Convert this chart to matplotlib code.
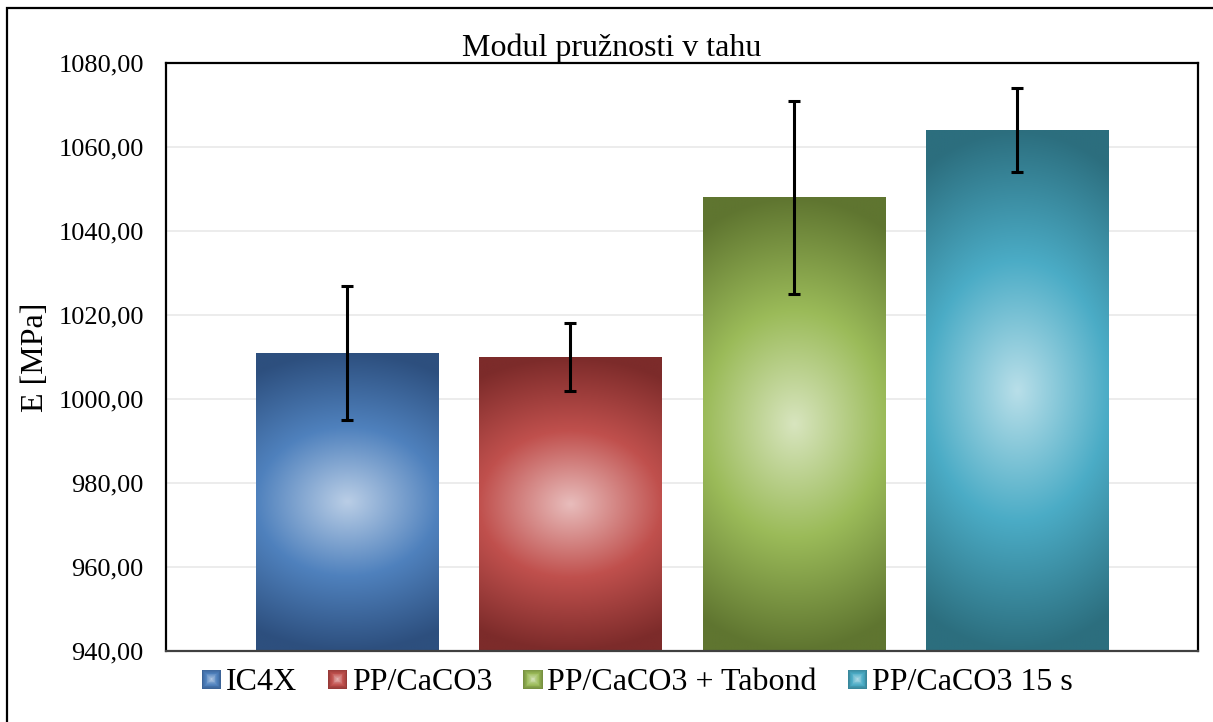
import numpy as np
import matplotlib
matplotlib.use('Agg')
import matplotlib.pyplot as plt
from matplotlib.patches import Rectangle, Patch
from matplotlib.legend_handler import HandlerBase
from matplotlib.colors import to_rgb
from matplotlib.ticker import FuncFormatter, MultipleLocator

plt.rcParams['font.family'] = ['Liberation Serif', 'DejaVu Serif']

# data
labels = ['IC4X', 'PP/CaCO3', 'PP/CaCO3 + Tabond', 'PP/CaCO3 15 s']
values = [1011, 1010, 1048, 1064]
errors = [16, 8, 23, 10]

# gradient colours per series: edge (dark), mid, centre (light)
dark_cols = ['#2D4F7E', '#7C2B2A', '#5F7530', '#2C6E7E']
mid_cols = ['#4F81BD', '#C0504D', '#9BBB59', '#4BACC6']
light_cols = ['#BACEE6', '#E8BDBC', '#D8E5BF', '#B9DFE9']

Y_MIN, Y_MAX = 940, 1080


def blend(t, c_dark, c_mid, c_light, split=0.5):
    d, m, l = (np.array(to_rgb(c)) for c in (c_dark, c_mid, c_light))
    t = np.clip(t, 0, 1)[..., None]
    inner = l + (m - l) * (t / split)
    outer = m + (d - m) * ((t - split) / (1 - split))
    return np.where(t < split, inner, outer)


def gradient_image(c_dark, c_mid, c_light, n=240):
    yy, xx = np.mgrid[-1:1:n * 1j, -1:1:n * 1j]
    t = np.sqrt(0.25 * xx ** 2 + yy ** 2)
    return blend(t, c_dark, c_mid, c_light)


class GradientSquare(HandlerBase):
    def __init__(self, cols, steps=12):
        super().__init__()
        self.cols = cols
        self.steps = steps

    def create_artists(self, legend, orig_handle, xdescent, ydescent,
                       width, height, fontsize, trans):
        size = height * 1.05
        cx = -xdescent + width / 2
        cy = -ydescent + height / 2
        arts = []
        for i in range(self.steps):
            frac = 1 - i / self.steps
            s = size * frac
            col = blend(np.array(frac * 0.8), *self.cols)
            r = Rectangle((cx - s / 2, cy - s / 2), s, s, facecolor=col,
                          edgecolor='none', transform=trans)
            arts.append(r)
        return arts


fig = plt.figure(figsize=(12.13, 7.22), dpi=100)
ax = fig.add_axes([166 / 1213, 1 - 651 / 722, 1032 / 1213, 588 / 722])

x = np.arange(len(labels))
width = 0.815
bars = ax.bar(x, np.array(values) - Y_MIN, bottom=Y_MIN, width=width,
              color='none', edgecolor='none', zorder=2)

for i, b in enumerate(bars):
    img = gradient_image(dark_cols[i], mid_cols[i], light_cols[i])
    im = ax.imshow(img, extent=[b.get_x(), b.get_x() + b.get_width(),
                                Y_MIN, values[i]],
                   aspect='auto', interpolation='bilinear', zorder=2)
    im.set_clip_path(b)

ax.errorbar(x, values, yerr=errors, fmt='none', ecolor='black',
            elinewidth=2.2, capsize=4.5, capthick=2.2, zorder=3)

ax.set_xlim(-0.81, len(labels) - 1 + 0.81)
ax.set_ylim(Y_MIN, Y_MAX)
ax.yaxis.set_major_locator(MultipleLocator(20))
ax.yaxis.set_major_formatter(FuncFormatter(lambda v, p: f'{v:.2f}'.replace('.', ',')))
ax.set_xticks([])
ax.tick_params(axis='y', length=0, pad=16, labelsize=19)
ax.yaxis.grid(True, color='#EBEBEB', linewidth=1.3)
ax.set_axisbelow(True)
for sp in ax.spines.values():
    sp.set_linewidth(1.6)
    sp.set_color('black')
ax.spines['bottom'].set_color('#404040')

ax.set_ylabel('E [MPa]', fontsize=23, labelpad=6)

fig.text(612 / 1213, 1 - 56 / 722, 'Modul pružnosti v tahu', fontsize=23,
         ha='center', va='baseline')

handles = [Patch(facecolor=mid_cols[i], label=labels[i]) for i in range(len(labels))]
hmap = {handles[i]: GradientSquare((dark_cols[i], mid_cols[i], light_cols[i]))
        for i in range(len(labels))}
fig.legend(handles=handles, handler_map=hmap, loc='center',
           bbox_to_anchor=(638 / 1213, 1 - 683 / 722), ncol=4, frameon=False,
           fontsize=23, handlelength=0.5, handleheight=0.5,
           handletextpad=0.2, columnspacing=1.02, borderaxespad=0)

# outer chart frame (only left and top edges fall inside the picture)
fig.add_artist(Rectangle((7 / 1213, -0.2), 1.5, 1.2 - 8 / 722,
                         transform=fig.transFigure, fill=False,
                         edgecolor='black', linewidth=1.6))

fig.savefig('out.png', dpi=100)
